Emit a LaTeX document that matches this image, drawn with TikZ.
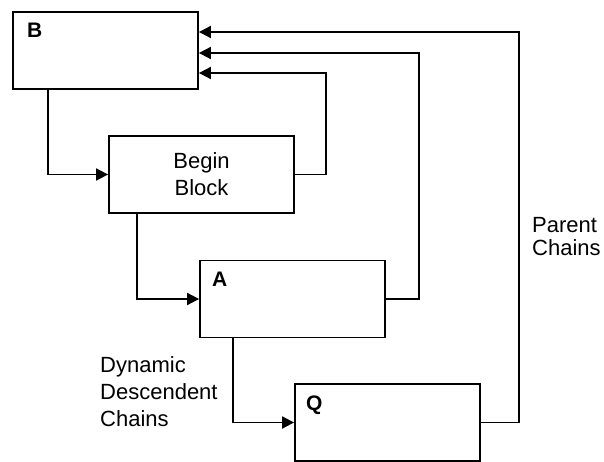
\documentclass[tikz,border=0pt]{standalone}
\usepackage{fontspec}
\setmainfont{Liberation Sans}
\usetikzlibrary{arrows.meta,calc}
\begin{document}
\begin{tikzpicture}[x=1pt,y=-1pt,
  blockbox/.style={draw,line width=1.8pt,minimum width=185pt,minimum height=77pt,inner sep=0pt},
  conn/.style={line width=1.8pt,-{Triangle[length=12pt,width=12pt]}},
  lbl/.style={font=\fontsize{22}{27}\selectfont,inner sep=0pt},
  bold/.style={font=\fontsize{21}{24}\selectfont\bfseries,inner sep=0pt}]
\useasboundingbox (0,0) rectangle (604,462);
\node[blockbox] (B) at (105.5,50.5) {};
\node[blockbox,lbl,align=center] (BB) at (201.5,174.5) {Begin\\Block};
\node[blockbox] (A) at (292.5,299) {};
\node[blockbox] (Q) at (387.5,422.5) {};
\node[bold,anchor=base west] (lB) at (27,38) {B};
\node[bold,anchor=base west] (lA) at (212,286) {A};
\node[bold,anchor=base west] (lQ) at (306,410) {Q};
\node[lbl,align=left,anchor=north west] (dyn) at (100,356) {Dynamic\\Descendent\\Chains};
\node[lbl,font=\fontsize{22}{23}\selectfont,align=left,anchor=north west] (par) at (532,217) {Parent\\Chains};
\draw[conn] ($(B.south west)+(36,0)$) |- (BB.west);
\draw[conn] ($(BB.south west)+(29,0)$) |- (A.west);
\draw[conn] ($(A.south west)+(34,0)$) |- (Q.west);
\draw[conn] (BB.east) -| (326,100) |- ($(B.east)+(0,22.5)$);
\draw[conn] (A.east) -| (419,100) |- ($(B.east)+(0,2.5)$);
\draw[conn] (Q.east) -| (519,100) |- ($(B.east)+(0,-18.5)$);
\end{tikzpicture}
\end{document}
